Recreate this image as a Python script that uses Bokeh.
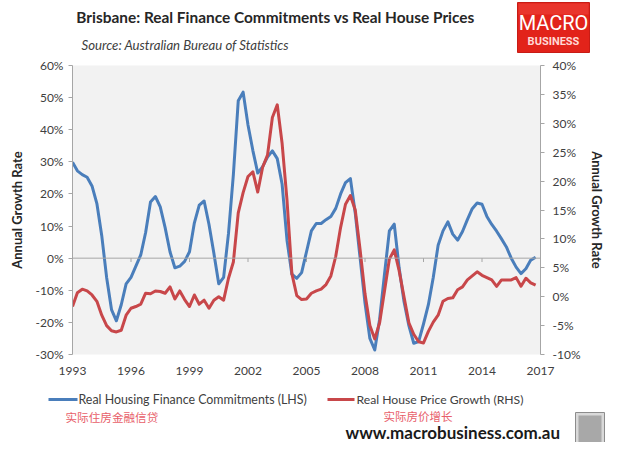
from bokeh.plotting import figure
from bokeh.layouts import column, row
from bokeh.models import (Range1d, LinearAxis, FixedTicker, PrintfTickFormatter, Span)
from bokeh.core.properties import value
from bokeh.embed import file_html
from bokeh.resources import INLINE

# ---------------- data (quarterly) ----------------
years = [1993 + 0.25 * i for i in range(96)]

finance_lhs = [
    29.9, 27.2, 26.0, 25.2, 22.5, 17.0, 7.0, -6.0,
    -16.0, -19.5, -14.5, -8.0, -6.0, -2.5, 1.0, 8.0,
    17.5, 19.2, 16.0, 9.5, 2.0, -3.0, -2.5, -1.0,
    2.0, 11.0, 16.5, 17.8, 10.5, 1.5, -8.0, -6.0,
    7.7, 26.0, 49.0, 51.7, 41.5, 33.5, 26.5, 28.5,
    31.5, 33.4, 31.0, 23.0, 5.6, -5.0, -6.3, -4.5,
    2.0, 8.5, 10.8, 10.8, 12.0, 13.0, 15.5, 20.0,
    23.5, 24.8, 14.0, 0.0, -14.0, -25.0, -28.6, -19.0,
    -5.0, 8.5, 10.6, -3.0, -13.5, -21.0, -26.5, -26.0,
    -20.5, -14.5, -6.0, 4.0, 8.5, 11.3, 7.5, 5.6,
    8.3, 12.0, 15.4, 17.2, 16.8, 13.0, 10.5, 8.4,
    6.0, 3.5, 0.0, -2.8, -4.8, -3.3, -0.6, 0.3,
]

price_rhs = [
    -1.7, 0.7, 1.3, 1.0, 0.3, -0.8, -3.2, -5.0,
    -5.9, -6.1, -5.8, -3.2, -2.0, -1.7, -1.3, 0.6,
    0.5, 1.0, 0.9, 0.6, 1.7, -0.4, 1.0, -0.5,
    -1.7, 0.3, -1.3, -0.6, -2.0, -0.6, 0.0, -0.6,
    3.2, 6.0, 14.5, 18.0, 20.8, 21.6, 18.1, 22.4,
    24.5, 31.0, 33.2, 26.5, 16.7, 4.0, 0.2, -0.5,
    -0.4, 0.6, 1.0, 1.3, 2.1, 3.6, 7.0, 12.0,
    16.0, 17.5, 15.0, 8.1, 0.5, -5.0, -7.3, -4.5,
    1.0, 6.5, 8.1, 4.5, 0.0, -4.5, -6.5, -7.8,
    -8.0, -6.0, -4.4, -3.2, -0.8, -0.3, -0.2, 1.2,
    1.7, 2.9, 3.6, 4.3, 3.7, 3.3, 2.9, 1.8,
    2.9, 2.9, 2.9, 3.3, 1.8, 3.2, 2.4, 2.0,
]

x_ticks = [1993, 1996, 1999, 2002, 2005, 2008, 2011, 2014, 2017]
lhs_ticks = [-30, -20, -10, 0, 10, 20, 30, 40, 50, 60]
rhs_ticks = [-10, -5, 0, 5, 10, 15, 20, 25, 30, 35, 40]

title_text = "Brisbane: Real Finance Commitments vs Real House Prices"
source_text = "Source: Australian Bureau of Statistics"
legend_lhs = "Real Housing Finance Commitments (LHS)"
legend_rhs = "Real House Price Growth (RHS)"
cn_lhs = "实际住房金融信贷"
cn_rhs = "实际房价增长"
site_text = "www.macrobusiness.com.au"
axis_title = "Annual Growth Rate"
logo_top = "MACRO"
logo_bottom = "BUSINESS"

BLUE = "#4a7ebb"
RED = "#c8474a"
GREY = "#a6a6a6"
TXT = "#404040"
PINK = "#e8606a"
FONT = "Lato"

W = 632
HEAD_H, MAIN_H, FOOT_H = 55, 330, 57
FL, FR, FT, FB = 72, 92, 10, 31


def panel(h):
    f = figure(width=W, height=h, x_range=Range1d(0, W), y_range=Range1d(h, 0),
               x_axis_type=None, y_axis_type=None, output_backend="svg",
               toolbar_location=None, min_border=0)
    f.outline_line_color = None
    f.background_fill_color = "white"
    f.border_fill_color = "white"
    f.xgrid.visible = False
    f.ygrid.visible = False
    return f


# ---------------- header ----------------
head = panel(HEAD_H)
head.text(x=[275], y=[16], text=[title_text], text_align="center", text_baseline="middle",
          text_font=value(FONT), text_font_style="bold", text_font_size="15.4px",
          text_color="#262626")
head.text(x=[81], y=[44], text=[source_text], text_align="left", text_baseline="middle",
          text_font=value(FONT), text_font_style="italic", text_font_size="13.2px",
          text_color=TXT)
head.quad(left=[517], right=[589], top=[2], bottom=[52], fill_color="#e2231a",
          line_color="#c81c15")
head.quad(left=[518], right=[588], top=[3], bottom=[14], fill_color="#f04a40",
          fill_alpha=0.5, line_color=None)
head.text(x=[553], y=[22], text=[logo_top], text_align="center", text_baseline="middle",
          text_font=value("Roboto"), text_font_size="20px", text_color="white")
head.text(x=[553], y=[41], text=[logo_bottom], text_align="center", text_baseline="middle",
          text_font=value("Roboto"), text_font_style="bold", text_font_size="11px",
          text_color="#ffd9d6")

# ---------------- main chart ----------------
p = figure(width=W, height=MAIN_H, x_range=Range1d(1993, 2017), y_range=Range1d(-30, 60),
           output_backend="svg", toolbar_location=None,
           min_border_left=FL, min_border_right=FR, min_border_top=FT, min_border_bottom=FB)
p.extra_y_ranges = {"rhs": Range1d(-10, 40)}
p.background_fill_color = "#f2f2f2"
p.border_fill_color = "white"
p.outline_line_color = None
p.xgrid.visible = False
p.ygrid.visible = False

xa = p.xaxis[0]
xa.ticker = FixedTicker(ticks=x_ticks)
xa.formatter = PrintfTickFormatter(format="%d")
xa.axis_line_color = None
xa.major_tick_line_color = None
xa.minor_tick_line_color = None
xa.major_label_standoff = 6
xa.major_label_text_font = FONT
xa.major_label_text_font_size = "12px"
xa.major_label_text_color = TXT

ya = p.yaxis[0]
ya.ticker = FixedTicker(ticks=lhs_ticks)
ya.formatter = PrintfTickFormatter(format="%d%%")
ya.axis_line_color = GREY
ya.major_tick_line_color = GREY
ya.major_tick_out = 4
ya.major_tick_in = 0
ya.minor_tick_line_color = None
ya.major_label_standoff = 5
ya.major_label_text_font = FONT
ya.major_label_text_font_size = "12px"
ya.major_label_text_color = TXT
ya.axis_label = axis_title
ya.axis_label_text_font = FONT
ya.axis_label_text_font_style = "bold"
ya.axis_label_text_font_size = "13px"
ya.axis_label_text_color = "#262626"
ya.axis_label_standoff = 8

ra = LinearAxis(y_range_name="rhs", ticker=FixedTicker(ticks=rhs_ticks),
                formatter=PrintfTickFormatter(format="%d%%"))
ra.axis_line_color = GREY
ra.major_tick_line_color = GREY
ra.major_tick_out = 4
ra.major_tick_in = 0
ra.minor_tick_line_color = None
ra.major_label_standoff = 8
ra.major_label_text_font = FONT
ra.major_label_text_font_size = "12px"
ra.major_label_text_color = TXT
ra.axis_label = axis_title
ra.axis_label_text_font = FONT
ra.axis_label_text_font_style = "bold"
ra.axis_label_text_font_size = "13px"
ra.axis_label_text_color = "#262626"
ra.axis_label_standoff = 6
p.add_layout(ra, "right")

p.add_layout(Span(location=0, dimension="width", line_color=GREY, line_width=1))
p.segment(x0=x_ticks, y0=[0] * len(x_ticks), x1=x_ticks, y1=[-1.2] * len(x_ticks),
          line_color=GREY, line_width=1)

p.line(years, finance_lhs, line_color=BLUE, line_width=3, line_join="round")
p.line(years, price_rhs, y_range_name="rhs", line_color=RED, line_width=3, line_join="round")

# ---------------- footer ----------------
foot = panel(FOOT_H)
foot.segment(x0=[48], y0=[14], x1=[77], y1=[14], line_color=BLUE, line_width=3)
foot.text(x=[78], y=[14], text=[legend_lhs], text_align="left", text_baseline="middle",
          text_font=value(FONT), text_font_size="12.4px", text_color=TXT)
foot.segment(x0=[327], y0=[14], x1=[354], y1=[14], line_color=RED, line_width=3)
foot.text(x=[356], y=[14], text=[legend_rhs], text_align="left", text_baseline="middle",
          text_font=value(FONT), text_font_size="12.2px", text_color=TXT)
foot.text(x=[65], y=[31], text=[cn_lhs], text_align="left", text_baseline="middle",
          text_font=value("Noto Sans CJK SC"), text_font_size="11.6px", text_color=PINK)
foot.text(x=[383], y=[30], text=[cn_rhs], text_align="left", text_baseline="middle",
          text_font=value("Noto Sans CJK SC"), text_font_size="11.5px", text_color=PINK)
foot.text(x=[345], y=[47], text=[site_text], text_align="left", text_baseline="middle",
          text_font=value(FONT), text_font_style="bold", text_font_size="17px",
          text_color="#1a1a1a")
foot.quad(left=[575], right=[604], top=[27], bottom=[60], fill_color="#d9d9d9",
          line_color="#8c8c8c")
foot.quad(left=[578], right=[601], top=[30], bottom=[60], fill_color="#a8a8a8",
          line_color=None)

layout = column(row(head), p, row(foot), spacing=0)
open("out.html", "w").write(file_html(layout, INLINE))
